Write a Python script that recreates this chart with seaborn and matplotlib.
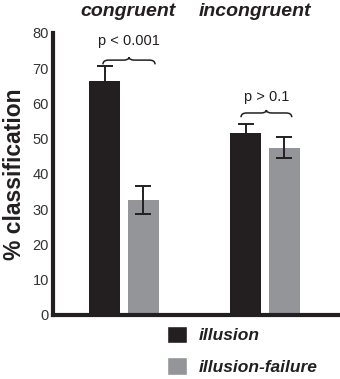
import matplotlib
matplotlib.use("Agg")
import matplotlib.pyplot as plt
import seaborn as sns
import pandas as pd
import numpy as np
from matplotlib.path import Path
from matplotlib.patches import PathPatch, Patch

conditions = ["congruent", "incongruent"]
types = ["illusion", "illusion-failure"]
illusion_vals = [66.5, 51.5]
failure_vals = [32.5, 47.5]
illusion_err = [4.0, 2.8]
failure_err = [4.0, 3.0]
p_labels = ["p < 0.001", "p > 0.1"]

sns.set_theme(style="white")
plt.rcParams['font.family'] = ['Liberation Sans', 'DejaVu Sans']

df = pd.DataFrame({
    "condition": conditions * 2,
    "type": [types[0]] * 2 + [types[1]] * 2,
    "value": illusion_vals + failure_vals,
    "err": illusion_err + failure_err,
})

ink = "#231f20"
colors = [ink, "#939598"]
fig = plt.figure(figsize=(3.4, 3.79), dpi=100)
ax = fig.add_axes([0.156, 0.169, 0.838, 0.744])
sns.barplot(data=df, x="condition", y="value", hue="type", palette=colors,
            width=0.55, gap=0.2, ax=ax, legend=False, errorbar=None,
            saturation=1, linewidth=0)

# error bars from bar patches
for p, (_, row) in zip(ax.patches, df.iterrows()):
    cx = p.get_x() + p.get_width() / 2
    ax.errorbar(cx, row["value"], yerr=row["err"], color=ink,
                capsize=5.5, elinewidth=1.4, capthick=1.4, zorder=3)

ax.set_ylim(0, 80)
ax.set_xlim(-0.504, 1.518)
ax.set_yticks(range(0, 81, 10))
ax.tick_params(axis="y", length=0, pad=3, labelsize=10.5, labelcolor="#333333")
ax.set_xticks([])
ax.set_xlabel("")
ax.set_ylabel("% classification", fontsize=16.5, fontweight="bold", color=ink)
ax.yaxis.set_label_coords(-0.094, 0.5)
for s in ["top", "right"]:
    ax.spines[s].set_visible(False)
for s in ["left", "bottom"]:
    ax.spines[s].set_linewidth(3)
    ax.spines[s].set_color(ink)

# condition titles
title_x = [0.03, 0.93]
for i, c in enumerate(conditions):
    ax.text(title_x[i], 1.077, c, transform=ax.get_xaxis_transform(),
            ha="center", va="center", fontsize=14, fontweight="bold",
            style="italic", color=ink)

def brace(ax, x0, x1, y, h):
    xm = (x0 + x1) / 2
    verts = [(x0, y - h), (x0, y), (x0 + 0.04, y),
             (xm - 0.04, y), (xm, y), (xm, y + h * 0.7),
             (xm, y), (xm + 0.04, y),
             (x1 - 0.04, y), (x1, y), (x1, y - h)]
    codes = [Path.MOVETO, Path.CURVE3, Path.CURVE3,
             Path.LINETO, Path.CURVE3, Path.CURVE3,
             Path.CURVE3, Path.CURVE3,
             Path.LINETO, Path.CURVE3, Path.CURVE3]
    ax.add_patch(PathPatch(Path(verts, codes), fill=False, lw=1.1,
                           edgecolor=ink, clip_on=False))

brace_y = [72.3, 57.3]
brace_x = [(-0.15, 0.22), (0.83, 1.19)]
text_off = [3.3, 2.5]
for i in range(2):
    x0, x1 = brace_x[i]
    brace(ax, x0, x1, brace_y[i], 1.2)
    ax.text((x0 + x1) / 2, brace_y[i] + text_off[i], p_labels[i], ha="center",
            va="bottom", fontsize=10.5, color=ink)

handles = [Patch(facecolor=colors[0]), Patch(facecolor=colors[1])]
leg = fig.legend(handles, types, loc="upper left",
                 bbox_to_anchor=(0.466, 0.163), frameon=False,
                 prop={"size": 12.5, "weight": "bold", "style": "italic"},
                 handlelength=1.15, handleheight=1.15, handletextpad=0.65,
                 labelspacing=0.8, borderpad=0, labelcolor=ink)

fig.savefig("out.png", dpi=100)
